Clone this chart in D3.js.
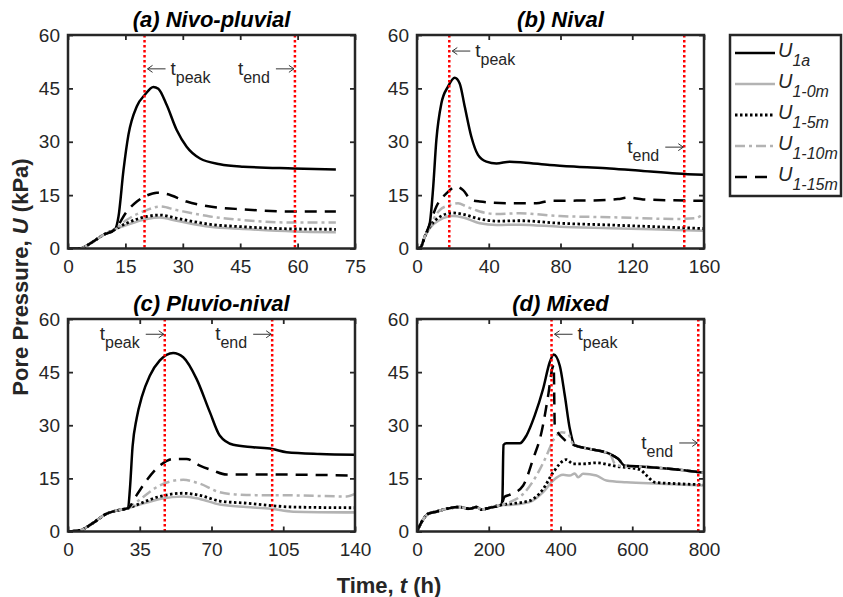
<!DOCTYPE html>
<html>
<head>
<meta charset="utf-8">
<script src="https://cdn.jsdelivr.net/npm/d3@7"></script>
<style>
    body{margin:0;background:#fff;}
    svg{font-family:"Liberation Sans",Arial,Helvetica,sans-serif;}
</style>
</head>
<body>
<svg id="chart" width="843" height="597"></svg>
<script>
// series names, in drawing order
var seriesSubs = ["1a", "1-0m", "1-5m", "1-10m", "1-15m"];

// (a) Nivo-pluvial  [t (h), U (kPa)]
var nivoPluvial_U1a = [[0,0],[3,0],[6.5,1.9],[9.2,3.8],[12.3,5.4],[13.2,9],[14.5,22],[15.8,32],[18,40],[20.1,43.2],[22.3,45.4],[23.6,44.9],[25.8,40.3],[28.4,33.3],[31,28.6],[34.5,25.3],[39.7,23.7],[45.8,23],[58.9,22.5],[70,22.2]];
var nivoPluvial_U10 = [[0,0],[3,0],[6.5,1.9],[9.2,3.8],[12.3,5.4],[15.3,6.6],[20.6,8.3],[24,8.7],[28.4,7.8],[37.1,6.1],[45.8,5.5],[58.9,4.8],[70,4.6]];
var nivoPluvial_U5 = [[0,0],[3,0],[6.5,1.9],[9.2,3.8],[12.3,5.4],[15.3,7.1],[20.6,9],[24,9.4],[28.4,8.5],[37.1,6.8],[45.8,6.1],[58.9,5.5],[70,5.4]];
var nivoPluvial_U10m = [[0,0],[3,0],[6.5,1.9],[9.2,3.8],[12.3,5.4],[15.3,8],[20.6,10.8],[24,11.8],[28.4,10.8],[37.1,9],[45.8,8],[58.9,7.3],[70,7.3]];
var nivoPluvial_U15 = [[0,0],[3,0],[6.5,1.9],[9.2,3.8],[12.3,5.4],[15.3,10.3],[18,13.2],[20.6,14.9],[23.2,15.7],[25.8,15.3],[31,13.2],[37.1,11.8],[45.8,11],[58.9,10.4],[70,10.4]];

// (b) Nival
var nival_U1a = [[0,0],[2,0.3],[4.3,3.3],[7.1,7],[8.9,16.4],[10.8,30.5],[13.6,40.8],[17.3,45.5],[21,48],[23.8,46.4],[26.6,39.9],[30.3,31.4],[34,26.3],[38.7,24.4],[44.3,23.9],[51.7,24.4],[59.2,24.2],[74,23.5],[89,23],[107.5,22.5],[126,21.8],[144.7,21.1],[160,20.7]];
var nival_U10 = [[0,0],[2,0.3],[4.3,3.3],[7.1,5.7],[12.7,8],[20,9.1],[25.7,8.7],[35,7.1],[44.3,6.6],[57.3,6.7],[79.6,6.1],[107.5,5.7],[144.7,5.2],[160,5]];
var nival_U5 = [[0,0],[2,0.3],[4.3,3.3],[7.1,6],[12.7,8.9],[20,10],[25.7,9.6],[35,8.3],[44.3,7.7],[57.3,7.8],[79.6,7.1],[107.5,6.6],[144.7,5.9],[160,5.6]];
var nival_U10m = [[0,0],[2,0.3],[4.3,3.3],[7.1,6.3],[12.7,10.8],[18.2,12.2],[22.9,12.7],[27.5,11.8],[35,10.4],[44.3,9.7],[57.3,9.9],[79.6,9.1],[107.5,8.8],[144.7,8.3],[155,8.5],[160,9.9]];
var nival_U15 = [[0,0],[2,0.3],[4.3,3.3],[7.1,6.8],[10.8,11.8],[16.4,15.5],[21.9,17.4],[25.7,16.4],[30.3,13.6],[35,13.2],[51.7,12.7],[66.6,12.7],[74,13.4],[98,13.5],[112,13.9],[118,14.3],[126,13.8],[160,13.4]];

// (c) Pluvio-nival
var pluvioNival_U1a = [[0,0],[5.7,0.3],[12.2,2.4],[18.7,5],[23.6,5.9],[29.3,6.6],[30.2,12],[31.5,24],[33.5,32],[36,38],[39.9,44],[44.8,48.3],[51.3,50.4],[56.2,49.2],[62.7,43.1],[69.2,33.7],[74,27.1],[80.6,24.5],[90.3,23.8],[99.6,23.3],[106.6,22.4],[122.9,21.9],[140,21.7]];
var pluvioNival_U10 = [[0,0],[5.7,0.3],[12.2,2.4],[18.7,5],[23.6,5.9],[29.3,6.6],[33.4,7.3],[44.8,9.2],[56.2,9.9],[64.3,9.2],[74,7.6],[87,6.9],[99,6.4],[109.9,5.6],[140,5.4]];
var pluvioNival_U5 = [[0,0],[5.7,0.3],[12.2,2.4],[18.7,5],[23.6,5.9],[29.3,6.6],[33.4,7.5],[44.8,9.9],[56.2,10.8],[64.3,10.2],[74,8.6],[87,8],[109.9,6.9],[140,6.7]];
var pluvioNival_U10m = [[0,0],[5.7,0.3],[12.2,2.4],[18.7,5],[23.6,5.9],[29.3,6.6],[33.4,8.3],[44.8,13],[56.2,14.6],[64.3,13.5],[74,11.1],[87,10.3],[109.9,10.2],[136,9.9],[140,10.6]];
var pluvioNival_U15 = [[0,0],[5.7,0.3],[12.2,2.4],[18.7,5],[23.6,5.9],[29.3,6.6],[33.4,10.2],[38.3,14.4],[44.8,18.6],[51.3,20.5],[57.8,20.5],[64.3,18.6],[70.8,17.2],[77.3,16.1],[93.6,16.1],[140,15.8]];

// (d) Mixed
var mixed_U1a = [[0,0],[30.7,5],[54,5.6],[91,6.6],[119,6.9],[147,6.4],[165.6,6.9],[180,6.2],[203,6.7],[235,7.5],[238,9],[241,24.4],[249,24.9],[286.5,24.9],[305,27.1],[328,32.7],[351.6,40.3],[370,47.8],[381,50],[398,46.8],[412,38.4],[426,29],[440,24.3],[482,23.3],[537.7,21.9],[561,20.5],[579.5,18.6],[630.7,18.3],[723.7,17.5],[800,16.6]];
var mixed_U10 = [[0,0],[30.7,5],[54,5.6],[91,6.6],[119,6.9],[147,6.4],[165.6,6.9],[180,6.2],[203,6.7],[235,7.5],[258.6,7.5],[314,8.3],[351.6,11.1],[379.5,14.4],[407.4,16],[426,15.8],[440,16.4],[449,15.3],[463,16.3],[500,15.8],[528,14.4],[584,13.9],[677,13.5],[800,13]];
var mixed_U5 = [[0,0],[30.7,5],[54,5.6],[91,6.6],[119,6.9],[147,6.4],[165.6,6.9],[180,6.2],[203,6.7],[235,7.5],[258.6,7.8],[314,8.7],[351.6,12],[379.5,16.7],[416.7,20.3],[435,19.1],[463,19.1],[500,19.4],[556,18.4],[621,17.5],[640,15.8],[663,13.9],[723.7,13.5],[800,13.2]];
var mixed_U10m = [[0,0],[30.7,5],[54,5.6],[91,6.6],[119,6.9],[147,6.4],[165.6,6.9],[180,6.2],[203,6.7],[235,7.5],[258.6,8.3],[296,10.6],[333,15.8],[361,21.4],[379.5,25.7],[402.8,28],[421,27.6],[435,24.7],[482,23.3],[537.7,21.9],[551.6,19.1],[575,18.4],[630.7,18.3],[723.7,17.5],[800,16.6]];
var mixed_U15 = [[0,0],[30.7,5],[54,5.6],[91,6.6],[119,6.9],[147,6.4],[165.6,6.9],[180,6.2],[203,6.7],[235,7.5],[244,9.8],[262,10.5],[296,13],[323.7,20.5],[347,28],[365.6,38.4],[377,46],[381,47],[384,30],[410,26],[440,24.3],[482,23.3],[537.7,21.9],[561,20.5],[579.5,18.6],[630.7,18.3],[723.7,17.5],[800,16.6]];

var panelTitles = ["(a) Nivo-pluvial", "(b) Nival", "(c) Pluvio-nival", "(d) Mixed"];
var panelSeries = [
    [nivoPluvial_U1a, nivoPluvial_U10, nivoPluvial_U5, nivoPluvial_U10m, nivoPluvial_U15],
    [nival_U1a, nival_U10, nival_U5, nival_U10m, nival_U15],
    [pluvioNival_U1a, pluvioNival_U10, pluvioNival_U5, pluvioNival_U10m, pluvioNival_U15],
    [mixed_U1a, mixed_U10, mixed_U5, mixed_U10m, mixed_U15]
];
var xMaxes = [75, 160, 140, 800];
var xTickValues = [[0,15,30,45,60,75], [0,40,80,120,160], [0,35,70,105,140], [0,200,400,600,800]];
var yTickValues = [0, 15, 30, 45, 60];

// t_peak / t_end (h) and label heights (kPa)
var peakTimes = [20, 18, 47.2, 375];
var endTimes = [59.3, 149, 99.6, 784];
var peakLabelU = [48.8, 53.8, 54, 54];
var endLabelU = [48.8, 26.8, 54, 23.3];
var peakArrowDir = ["left", "left", "right", "left"];
var endArrowDir = ["right", "right", "right", "right"];

var styles = [
    {color: "#000", dash: null, width: 2.5},
    {color: "#b3b3b3", dash: null, width: 2.5},
    {color: "#000", dash: "2.5,2.5", width: 2.8},
    {color: "#b3b3b3", dash: "10,4,3,4", width: 2.5},
    {color: "#000", dash: "12,8", width: 2.5}
];

var boxes = [
    {x0: 68, x1: 355, y0: 35, y1: 248.5},
    {x0: 417, x1: 704, y0: 35, y1: 248.5},
    {x0: 68, x1: 355, y0: 319, y1: 531.5},
    {x0: 417, x1: 704, y0: 319, y1: 531.5}
];

var textColor = "#262626";
var svg = d3.select("#chart");

// thin arrow, head at (hx, ay), pointing left (dir=-1) or right (dir=1)
function drawArrow(g, xa, xb, ay, dir){
    var hx = dir < 0 ? xa : xb;
    g.append("path")
        .attr("d", "M" + xa + "," + ay + "H" + xb +
            "M" + (hx - dir * 5) + "," + (ay - 3.5) + "L" + hx + "," + ay + "L" + (hx - dir * 5) + "," + (ay + 3.5))
        .attr("fill", "none")
        .attr("stroke", "#333")
        .attr("stroke-width", 1);
}

function drawMarkerLabel(g, px, py, sub, dir){
    var text = g.append("text")
        .attr("y", py)
        .attr("fill", textColor)
        .style("font-size", "19px");
    if(dir == "left"){
        drawArrow(g, px + 3, px + 21, py - 6, -1);
        text.attr("x", px + 26).attr("text-anchor", "start");
        text.append("tspan").text("t");
        text.append("tspan").attr("dy", 8).style("font-size", "16px").text(sub);
    }else{
        drawArrow(g, px - 19, px - 1, py - 6, 1);
        text.attr("x", px - 25).attr("text-anchor", "end");
        text.append("tspan").text("t");
        text.append("tspan").attr("dy", 8).style("font-size", "16px").text(sub);
    }
}

function styleAxis(axisG){
    axisG.select(".domain").remove();
    axisG.selectAll(".tick line").attr("stroke", textColor).attr("stroke-width", 1.8);
    axisG.selectAll(".tick text")
        .attr("fill", textColor)
        .style("font-size", "19px")
        .style("font-family", "'Liberation Sans',Arial,Helvetica,sans-serif");
}

panelSeries.forEach(function(seriesList, i){
    var b = boxes[i];
    var x = d3.scaleLinear().domain([0, xMaxes[i]]).range([b.x0, b.x1]);
    var y = d3.scaleLinear().domain([0, 60]).range([b.y1, b.y0]);
    var g = svg.append("g").attr("class", "panel");

    g.append("clipPath").attr("id", "clip" + i)
        .append("rect")
        .attr("x", b.x0).attr("y", b.y0)
        .attr("width", b.x1 - b.x0).attr("height", b.y1 - b.y0);

    var line = d3.line()
        .x(function(d){ return x(d[0]); })
        .y(function(d){ return y(d[1]); })
        .curve(d3.curveMonotoneX);

    var plot = g.append("g").attr("clip-path", "url(#clip" + i + ")");
    seriesList.forEach(function(data, k){
        var st = styles[k];
        plot.append("path")
            .attr("d", line(data))
            .attr("fill", "none")
            .attr("stroke", st.color)
            .attr("stroke-width", st.width)
            .attr("stroke-dasharray", st.dash)
            .attr("stroke-linejoin", "round");
    });

    // t_peak and t_end markers
    [peakTimes[i], endTimes[i]].forEach(function(t){
        plot.append("line")
            .attr("x1", x(t)).attr("x2", x(t))
            .attr("y1", b.y0).attr("y2", b.y1)
            .attr("stroke", "#ff0000")
            .attr("stroke-width", 2.5)
            .attr("stroke-dasharray", "2.5,2.5");
    });
    drawMarkerLabel(g, x(peakTimes[i]), y(peakLabelU[i]), "peak", peakArrowDir[i]);
    drawMarkerLabel(g, x(endTimes[i]), y(endLabelU[i]), "end", endArrowDir[i]);

    // axes, ticks inside on all four sides
    var bottom = g.append("g").attr("transform", "translate(0," + b.y1 + ")")
        .call(d3.axisBottom(x).tickValues(xTickValues[i]).tickSizeInner(-5).tickSizeOuter(0).tickPadding(11));
    styleAxis(bottom);
    var top = g.append("g").attr("transform", "translate(0," + b.y0 + ")")
        .call(d3.axisTop(x).tickValues(xTickValues[i]).tickSizeInner(-5).tickSizeOuter(0).tickFormat(""));
    styleAxis(top);
    var left = g.append("g").attr("transform", "translate(" + b.x0 + ",0)")
        .call(d3.axisLeft(y).tickValues(yTickValues).tickSizeInner(-5).tickSizeOuter(0).tickPadding(8));
    styleAxis(left);
    var right = g.append("g").attr("transform", "translate(" + b.x1 + ",0)")
        .call(d3.axisRight(y).tickValues(yTickValues).tickSizeInner(-5).tickSizeOuter(0).tickFormat(""));
    styleAxis(right);

    g.append("rect")
        .attr("x", b.x0).attr("y", b.y0)
        .attr("width", b.x1 - b.x0).attr("height", b.y1 - b.y0)
        .attr("fill", "none")
        .attr("stroke", textColor)
        .attr("stroke-width", 2.5);

    g.append("text")
        .attr("x", (b.x0 + b.x1) / 2)
        .attr("y", b.y0 - 8)
        .attr("text-anchor", "middle")
        .attr("fill", "#000")
        .style("font-size", "22px")
        .style("font-weight", "bold")
        .style("font-style", "italic")
        .text(panelTitles[i]);
});

// axis titles
var yLabel = svg.append("text")
    .attr("transform", "translate(28,277) rotate(-90)")
    .attr("text-anchor", "middle")
    .attr("fill", textColor)
    .style("font-size", "22px")
    .style("font-weight", "bold");
yLabel.append("tspan").text("Pore Pressure, ");
yLabel.append("tspan").style("font-style", "italic").text("U");
yLabel.append("tspan").text(" (kPa)");

var xLabel = svg.append("text")
    .attr("x", 389).attr("y", 593)
    .attr("text-anchor", "middle")
    .attr("fill", textColor)
    .style("font-size", "22px")
    .style("font-weight", "bold");
xLabel.append("tspan").text("Time, ");
xLabel.append("tspan").style("font-style", "italic").text("t");
xLabel.append("tspan").text(" (h)");

// legend
var legend = svg.append("g").attr("class", "legend");
legend.append("rect")
    .attr("x", 730).attr("y", 35)
    .attr("width", 111).attr("height", 161)
    .attr("fill", "#fff")
    .attr("stroke", textColor)
    .attr("stroke-width", 2.5);
seriesSubs.forEach(function(sub, k){
    var st = styles[k];
    var ly = 53 + k * 31;
    legend.append("line")
        .attr("x1", 735).attr("x2", 775)
        .attr("y1", ly).attr("y2", ly)
        .attr("stroke", st.color)
        .attr("stroke-width", st.width)
        .attr("stroke-dasharray", st.dash);
    var t = legend.append("text")
        .attr("x", 778).attr("y", ly + 4)
        .attr("fill", textColor)
        .style("font-style", "italic")
        .style("font-size", "20px");
    t.append("tspan").text("U");
    t.append("tspan").attr("dy", 9).style("font-size", "16px").text(sub);
});
</script>
</body>
</html>
